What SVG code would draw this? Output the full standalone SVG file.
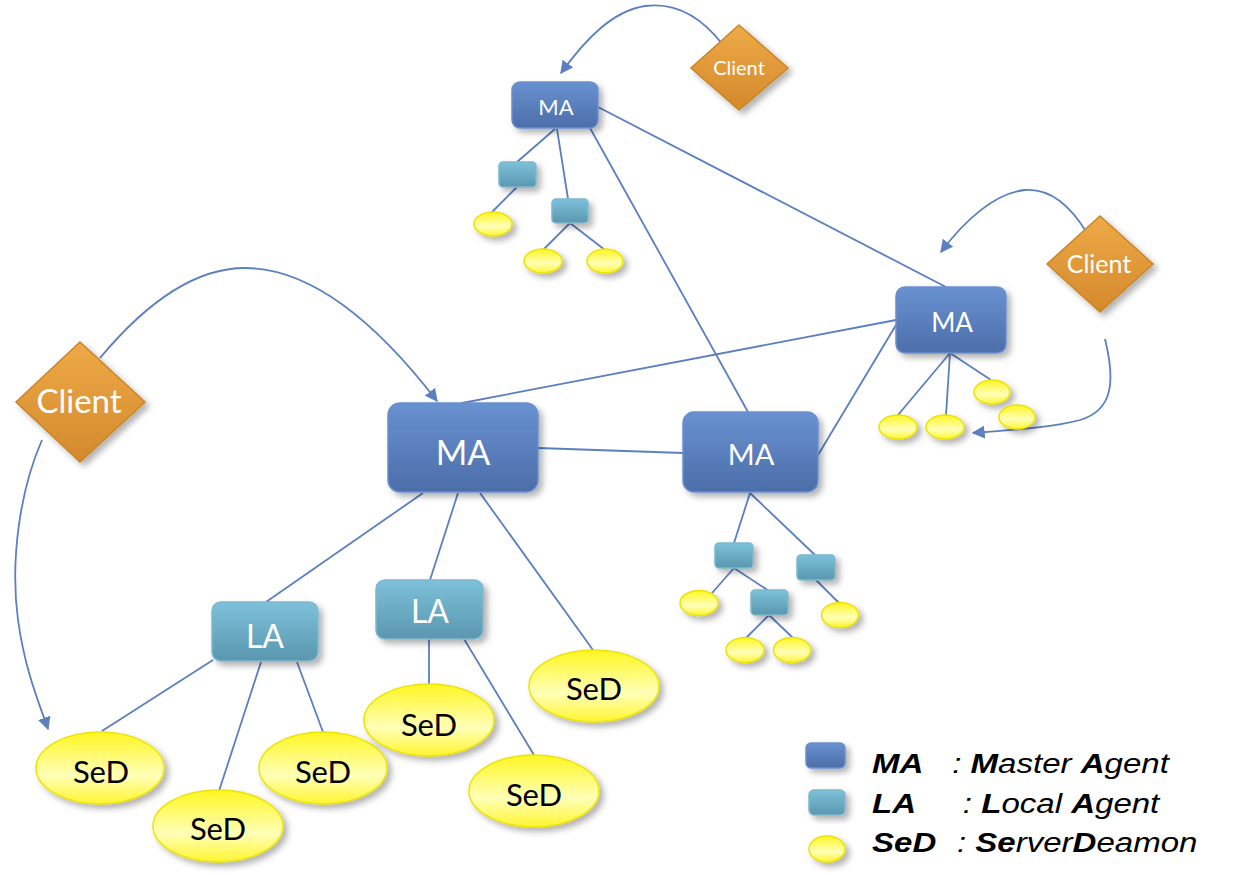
<svg xmlns="http://www.w3.org/2000/svg" width="1252" height="875" viewBox="0 0 1252 875">
<style>
.c{fill:none;stroke:#5b7fbf;stroke-width:1.8}
.ma{fill:url(#gMA);stroke:#6a8fce;stroke-width:1.5;filter:url(#sh)}
.la{fill:url(#gLA);stroke:#7db8d0;stroke-width:1.5;filter:url(#sh)}
.sed{fill:url(#gSeD);stroke:#ece300;stroke-width:1.5;filter:url(#sh)}
.cl{fill:url(#gCL);stroke:#c98526;stroke-width:1.5;filter:url(#sh)}
.w{font-family:Lato,"Open Sans",sans-serif;fill:#fff;text-anchor:middle}
.k{font-family:Lato,"Open Sans",sans-serif;fill:#000;text-anchor:middle}
.lg{font-family:"Liberation Sans",Arial,sans-serif;font-style:italic;font-size:28px;fill:#000}
.b{font-weight:bold}
</style>
<defs>
<linearGradient id="gMA" x1="0" y1="0" x2="0" y2="1"><stop offset="0" stop-color="#6991d0"/><stop offset="1" stop-color="#4c6ea9"/></linearGradient>
<linearGradient id="gLA" x1="0" y1="0" x2="0" y2="1"><stop offset="0" stop-color="#7dc1da"/><stop offset="1" stop-color="#5a97af"/></linearGradient>
<linearGradient id="gSeD" x1="0" y1="0" x2="0" y2="1"><stop offset="0" stop-color="#fff620"/><stop offset="0.6" stop-color="#ffffb8"/><stop offset="1" stop-color="#fff530"/></linearGradient>
<linearGradient id="gCL" x1="0" y1="0" x2="0" y2="1"><stop offset="0" stop-color="#eeaa48"/><stop offset="1" stop-color="#d4892b"/></linearGradient>
<filter id="sh" x="-20%" y="-20%" width="150%" height="160%"><feDropShadow dx="4" dy="4" stdDeviation="3" flood-color="#000" flood-opacity="0.3"/></filter>
<marker id="ar" viewBox="0 0 10 10" refX="9" refY="5" markerWidth="13" markerHeight="13" markerUnits="userSpaceOnUse" orient="auto"><path d="M0,0 L10,5 L0,10 z" fill="#5b7fbf"/></marker>
</defs>
<g id="connectors">
<line class="c" x1="590" y1="128" x2="748" y2="412"/>
<line class="c" x1="598" y1="107" x2="946" y2="287"/>
<line class="c" x1="896" y1="320" x2="462" y2="403"/>
<line class="c" x1="896" y1="325" x2="818" y2="455"/>
<line class="c" x1="538" y1="448" x2="683" y2="453"/>
<line class="c" x1="555" y1="129" x2="517" y2="162"/>
<line class="c" x1="557" y1="129" x2="568" y2="199"/>
<line class="c" x1="517" y1="187" x2="492" y2="212"/>
<line class="c" x1="570" y1="223" x2="543" y2="250"/>
<line class="c" x1="570" y1="223" x2="605" y2="250"/>
<line class="c" x1="950" y1="353" x2="898" y2="415"/>
<line class="c" x1="950" y1="353" x2="946" y2="415"/>
<line class="c" x1="950" y1="353" x2="991" y2="380"/>
<line class="c" x1="750" y1="493" x2="734" y2="543"/>
<line class="c" x1="750" y1="493" x2="815" y2="555"/>
<line class="c" x1="734" y1="568" x2="712" y2="593"/>
<line class="c" x1="734" y1="568" x2="769" y2="591"/>
<line class="c" x1="769" y1="615" x2="746" y2="638"/>
<line class="c" x1="769" y1="615" x2="793" y2="638"/>
<line class="c" x1="816" y1="580" x2="839" y2="603"/>
<line class="c" x1="423" y1="493" x2="266" y2="602"/>
<line class="c" x1="458" y1="493" x2="430" y2="580"/>
<line class="c" x1="480" y1="493" x2="593" y2="650"/>
<line class="c" x1="213" y1="660" x2="102" y2="731"/>
<line class="c" x1="261" y1="662" x2="219" y2="791"/>
<line class="c" x1="297" y1="662" x2="323" y2="732"/>
<line class="c" x1="429" y1="639" x2="429" y2="685"/>
<line class="c" x1="464" y1="639" x2="534" y2="755"/>
<path class="c" marker-end="url(#ar)" d="M723,45 C700,15 675,2 645,6 C612,11 585,40 561,73"/>
<path class="c" marker-end="url(#ar)" d="M1087,233 C1070,205 1050,188 1025,190 C995,193 965,220 941,252"/>
<path class="c" marker-end="url(#ar)" d="M1105,339 C1115,380 1114,410 1080,420 C1050,428 1010,430 973,433"/>
<path class="c" marker-end="url(#ar)" d="M100,358 C140,310 190,268 245,268 C320,268 390,340 437,401"/>
<path class="c" marker-end="url(#ar)" d="M42,440 C20,490 10,560 18,620 C25,670 38,700 48,729"/>
</g>
<g id="client-top"><polygon class="cl" points="739,25 788,68 739,110 691,68"/><text class="w" x="739" y="75" font-size="20">Client</text></g>
<g id="client-right"><polygon class="cl" points="1100,216 1153,264 1100,312 1047,264"/><text class="w" x="1099" y="273" font-size="25">Client</text></g>
<g id="client-left"><polygon class="cl" points="80,342 145,402 80,462 16,402"/><text class="w" x="79" y="413" font-size="33">Client</text></g>
<g id="ma-top"><rect class="ma" x="512" y="82" width="86" height="46" rx="8"/><text class="w" x="556" y="115" font-size="22">MA</text></g>
<g id="ma-right"><rect class="ma" x="896" y="287" width="110" height="66" rx="9"/><text class="w" x="952" y="332" font-size="26">MA</text></g>
<g id="ma-big"><rect class="ma" x="388" y="403" width="150" height="89" rx="12"/><text class="w" x="463" y="465" font-size="34">MA</text></g>
<g id="ma-mid"><rect class="ma" x="683" y="412" width="135" height="80" rx="11"/><text class="w" x="751" y="465" font-size="29">MA</text></g>
<g id="la-top1"><rect class="la" x="499" y="162" width="37" height="25" rx="4"/></g>
<g id="la-top2"><rect class="la" x="552" y="199" width="36" height="24" rx="4"/></g>
<g id="sed-top1"><ellipse class="sed" cx="493" cy="224" rx="19" ry="12"/></g>
<g id="sed-top2"><ellipse class="sed" cx="543" cy="261" rx="19" ry="12"/></g>
<g id="sed-top3"><ellipse class="sed" cx="605" cy="261" rx="18" ry="12"/></g>
<g id="sed-r1"><ellipse class="sed" cx="898" cy="427" rx="19" ry="12"/></g>
<g id="sed-r2"><ellipse class="sed" cx="945" cy="427" rx="19" ry="12"/></g>
<g id="sed-r3"><ellipse class="sed" cx="992" cy="392" rx="18" ry="12"/></g>
<g id="sed-r4"><ellipse class="sed" cx="1017" cy="417" rx="18" ry="12"/></g>
<g id="la-m1"><rect class="la" x="715" y="543" width="38" height="25" rx="4"/></g>
<g id="la-m2"><rect class="la" x="797" y="555" width="38" height="25" rx="4"/></g>
<g id="la-m3"><rect class="la" x="751" y="590" width="37" height="25" rx="4"/></g>
<g id="sed-m1"><ellipse class="sed" cx="699" cy="603" rx="19" ry="12.5"/></g>
<g id="sed-m2"><ellipse class="sed" cx="745" cy="650" rx="19" ry="12.5"/></g>
<g id="sed-m3"><ellipse class="sed" cx="792" cy="650" rx="18.5" ry="12.5"/></g>
<g id="sed-m4"><ellipse class="sed" cx="840" cy="615" rx="18.5" ry="12.5"/></g>
<g id="la-left"><rect class="la" x="212" y="602" width="106" height="59" rx="9"/><text class="w" x="265" y="648" font-size="32">LA</text></g>
<g id="la-right"><rect class="la" x="376" y="580" width="107" height="59" rx="9"/><text class="w" x="430" y="623" font-size="32">LA</text></g>
<g id="sed-1"><ellipse class="sed" cx="100" cy="768" rx="64" ry="36"/><text class="k" x="101" y="783" font-size="31">SeD</text></g>
<g id="sed-2"><ellipse class="sed" cx="218" cy="826" rx="65" ry="36"/><text class="k" x="218" y="840" font-size="31">SeD</text></g>
<g id="sed-3"><ellipse class="sed" cx="323" cy="768" rx="64" ry="36"/><text class="k" x="323" y="783" font-size="31">SeD</text></g>
<g id="sed-4"><ellipse class="sed" cx="429" cy="720" rx="65" ry="36"/><text class="k" x="429" y="736" font-size="31">SeD</text></g>
<g id="sed-5"><ellipse class="sed" cx="534" cy="791" rx="65" ry="36"/><text class="k" x="534" y="806" font-size="31">SeD</text></g>
<g id="sed-6"><ellipse class="sed" cx="594" cy="686" rx="65" ry="36"/><text class="k" x="594" y="700" font-size="31">SeD</text></g>
<g id="legend">
<rect class="ma" x="806" y="743" width="39" height="25" rx="5"/>
<rect class="la" x="809" y="790" width="36" height="25" rx="5"/>
<ellipse class="sed" cx="827" cy="849" rx="18" ry="13"/>
<g transform="translate(872,0) scale(1.18,1)">
<text class="lg" y="773"><tspan class="b" x="0">MA</tspan><tspan x="68">: </tspan><tspan class="b">M</tspan><tspan>aster </tspan><tspan class="b">A</tspan><tspan>gent</tspan></text>
<text class="lg" y="813"><tspan class="b" x="0">LA</tspan><tspan x="77">: </tspan><tspan class="b">L</tspan><tspan>ocal </tspan><tspan class="b">A</tspan><tspan>gent</tspan></text>
<text class="lg" y="852"><tspan class="b" x="0">SeD</tspan><tspan x="72">: </tspan><tspan class="b">Se</tspan><tspan>rver</tspan><tspan class="b">D</tspan><tspan>eamon</tspan></text>
</g>
</g>
</svg>
